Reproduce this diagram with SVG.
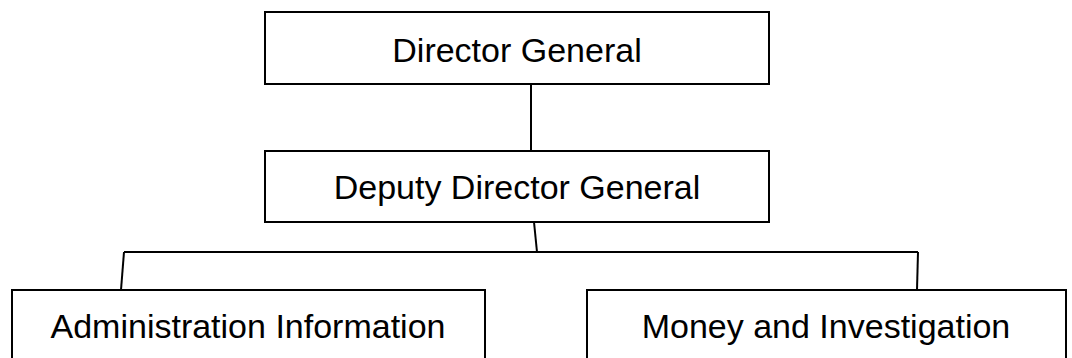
<svg xmlns="http://www.w3.org/2000/svg" width="1072" height="358" viewBox="0 0 1072 358">
  <style>
    .box { fill: #ffffff; stroke: #000000; stroke-width: 2; }
    .lbl { font-family: "Liberation Sans", Arial, sans-serif; font-size: 34px; fill: #000000; text-anchor: middle; }
    .conn { stroke: #000000; stroke-width: 2; fill: none; }
  </style>
  <rect width="1072" height="358" fill="#ffffff"/>
  <g id="connectors">
    <line class="conn" x1="531" y1="81" x2="531" y2="151"/>
    <line class="conn" x1="534" y1="222" x2="537" y2="252"/>
    <line class="conn" x1="124" y1="252" x2="918" y2="252"/>
    <line class="conn" x1="124" y1="252" x2="121" y2="290"/>
    <line class="conn" x1="918" y1="252" x2="917" y2="290"/>
  </g>
  <g id="director-general">
    <rect class="box" x="265" y="12" width="504" height="72"/>
    <text class="lbl" x="517" y="62">Director General</text>
  </g>
  <g id="deputy-director-general">
    <rect class="box" x="265" y="151" width="504" height="71"/>
    <text class="lbl" x="517" y="199">Deputy Director General</text>
  </g>
  <g id="administration-information">
    <rect class="box" x="12" y="290" width="473" height="80"/>
    <text class="lbl" x="248" y="338">Administration Information</text>
  </g>
  <g id="money-and-investigation">
    <rect class="box" x="587" y="290" width="479" height="80"/>
    <text class="lbl" x="826" y="338">Money and Investigation</text>
  </g>
</svg>
